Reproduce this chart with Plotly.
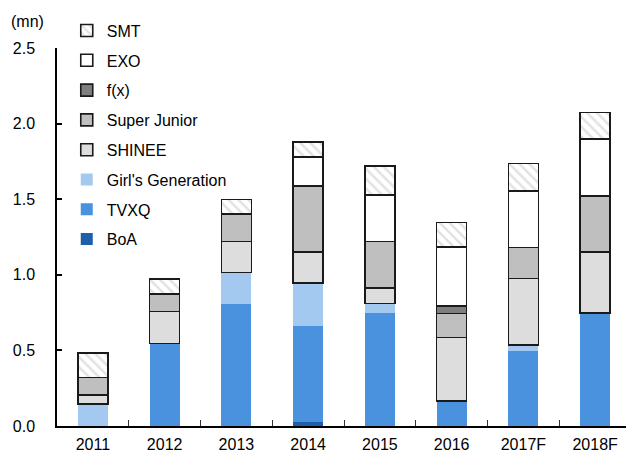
import plotly.graph_objects as go

years = ["2011", "2012", "2013", "2014", "2015", "2016", "2017F", "2018F"]

boa      = [0.0,   0.0,   0.0,   0.025, 0.0,   0.0,   0.0,   0.0]
tvxq     = [0.0,   0.546, 0.807, 0.636, 0.745, 0.165, 0.495, 0.749]
girls    = [0.147, 0.0,   0.208, 0.283, 0.066, 0.0,   0.040, 0.0]
shinee   = [0.060, 0.212, 0.205, 0.206, 0.102, 0.421, 0.440, 0.401]
superjr  = [0.115, 0.117, 0.182, 0.436, 0.307, 0.159, 0.206, 0.372]
fx       = [0.0,   0.0,   0.0,   0.0,   0.0,   0.048, 0.0,   0.0]
exo      = [0.0,   0.0,   0.0,   0.192, 0.306, 0.392, 0.372, 0.378]
smt      = [0.159, 0.098, 0.095, 0.102, 0.192, 0.160, 0.183, 0.173]

series = [
    ("BoA", boa, "#1F5EA8", False, None),
    ("TVXQ", tvxq, "#4A92DE", False, None),
    ("Girl's Generation", girls, "#A4C9F0", False, None),
    ("SHINEE", shinee, "#DDDDDD", True, None),
    ("Super Junior", superjr, "#BFBFBF", True, None),
    ("f(x)", fx, "#7F7F7F", True, None),
    ("EXO", exo, "#FFFFFF", True, None),
    ("SMT", smt, "#FFFFFF", True, "\\"),
]

FONT = "Arial, Liberation Sans, sans-serif"
fig = go.Figure()
n = len(series)
for i, (name, vals, color, outlined, pat) in enumerate(series):
    marker = dict(color=color,
                  line=dict(color="#1a1a1a" if outlined else color,
                            width=1.6 if outlined else 0))
    if pat:
        marker["pattern"] = dict(shape=pat, fgcolor="#C4C4C4", bgcolor="#FFFFFF",
                                 size=7, solidity=0.35, fillmode="overlay")
    fig.add_trace(go.Bar(x=years, y=vals, name=name, marker=marker,
                         legendgroup=name, legendrank=n - i, hoverinfo="skip"))

fig.update_layout(
    width=626, height=449,
    barmode="stack", bargap=0.58,
    plot_bgcolor="white", paper_bgcolor="white",
    margin=dict(l=49, r=3, t=40, b=31),
    font=dict(family=FONT, size=16, color="#000000"),
    legend=dict(x=0.017, y=1.091, xanchor="left", yanchor="top",
                traceorder="grouped", tracegroupgap=6, maxheight=440,
                bgcolor="rgba(0,0,0,0)", font=dict(size=16, family=FONT)),
    showlegend=True,
)
fig.update_yaxes(range=[0, 2.5], dtick=0.5, tickformat=".1f", automargin=False,
                 showline=True, linecolor="#000", linewidth=1.5,
                 ticks="inside", ticklen=5, tickcolor="#000", tickwidth=1.5,
                 showgrid=False, zeroline=False, ticklabelstandoff=17,
                 tickfont=dict(size=16, family=FONT))
fig.update_xaxes(showline=True, linecolor="#000", linewidth=2, automargin=False,
                 ticks="inside", tickson="boundaries", ticklen=6,
                 tickcolor="#333", tickwidth=1.2, showgrid=False,
                 tickfont=dict(size=16, family=FONT), ticklabelstandoff=3)
fig.add_annotation(text="(mn)", x=-0.083, y=1.07, xref="paper", yref="paper",
                   xanchor="left", yanchor="middle", showarrow=False,
                   font=dict(size=16, family=FONT))
fig.write_html("out.html")
